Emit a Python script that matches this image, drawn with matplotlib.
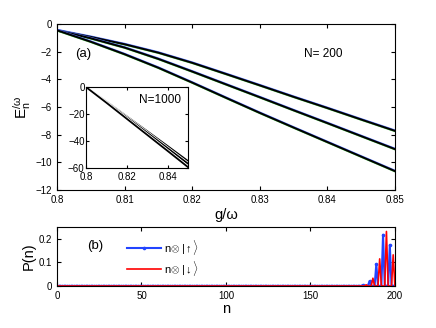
import numpy as np
import matplotlib
matplotlib.use('Agg')
import matplotlib.pyplot as plt
import matplotlib.transforms as mtransforms

plt.rcParams['font.family'] = ['Liberation Sans', 'DejaVu Sans']
plt.rcParams['mathtext.fontset'] = 'custom'
plt.rcParams['mathtext.rm'] = 'Liberation Sans'
plt.rcParams['mathtext.it'] = 'Liberation Sans'

# panel (a): lowest energies for N=200
g = [0.800, 0.805, 0.810, 0.815, 0.820, 0.825, 0.830, 0.835, 0.840, 0.845, 0.850]
e_top = [-0.45, -0.93, -1.46, -2.07, -2.80, -3.61, -4.43, -5.26, -6.07, -6.90, -7.72]
e_mid = [-0.45, -1.03, -1.70, -2.52, -3.43, -4.36, -5.29, -6.23, -7.16, -8.10, -9.04]
e_bot = [-0.45, -1.28, -2.18, -3.16, -4.23, -5.33, -6.42, -7.48, -8.53, -9.58, -10.63]

# inset: N=1000
g_in = [0.80, 0.81, 0.82, 0.83, 0.84, 0.85]
ein_top = [0, -10.7, -21.7, -32.7, -43.7, -54.8]
ein_mid = [0, -11.1, -22.4, -33.8, -45.3, -56.8]
ein_bot = [0, -11.6, -23.5, -35.4, -47.3, -59.3]

# panel (b): photon distribution
n = np.arange(0, 201)
up_n = [181, 185, 189, 193, 197]
up_p = [0.003, 0.021, 0.092, 0.217, 0.174]
down_n = [183, 187, 191, 195, 199]
down_p = [0.005, 0.033, 0.115, 0.231, 0.132]

p_up = np.zeros(len(n))
p_up[up_n] = up_p
p_down = np.zeros(len(n))
p_down[down_n] = down_p

fig = plt.figure(figsize=(4.36, 3.28), dpi=100)
ax = fig.add_axes([0.1307, 0.4207, 0.775, 0.506])
up_shift = ax.transData + mtransforms.ScaledTranslation(0, 0.6 / 72, fig.dpi_scale_trans)
dn_shift = ax.transData + mtransforms.ScaledTranslation(0, -0.5 / 72, fig.dpi_scale_trans)
for e in (e_top, e_mid, e_bot):
    ax.plot(g, e, color='#5577ff', lw=0.9, transform=up_shift)
    ax.plot(g, e, color='#44bb44', lw=0.9, transform=dn_shift)
    ax.plot(g, e, color='black', lw=1.4)
ax.set_xlim(0.8, 0.85)
ax.set_ylim(-12, 0)
ax.set_xticks([0.8, 0.81, 0.82, 0.83, 0.84, 0.85])
ax.set_xticklabels(['0.8', '0.81', '0.82', '0.83', '0.84', '0.85'])
ax.set_yticks(range(-12, 1, 2))
ax.set_yticklabels(['\u221212', '\u221210', '\u22128', '\u22126', '\u22124', '\u22122', '0'])
ax.tick_params(direction='in', top=True, right=True, labelsize=7, length=3)
ax.set_xlabel('g/\u03c9', fontsize=10.5, labelpad=2)
ax.set_ylabel(r'$\mathregular{E_n^{/\omega}}$', fontsize=11, labelpad=2)
ax.text(0.055, 0.80, '(a)', transform=ax.transAxes, fontsize=9.5)
ax.text(0.73, 0.80, 'N= 200', transform=ax.transAxes, fontsize=8.5)

axi = fig.add_axes([0.197, 0.4878, 0.234, 0.247])
for e in (ein_top, ein_mid, ein_bot):
    axi.plot(g_in, e, color='white', lw=2.4)
    axi.plot(g_in, e, color='black', lw=1.3)
axi.set_xlim(0.8, 0.85)
axi.set_ylim(-60, 0)
axi.set_xticks([0.8, 0.82, 0.84])
axi.set_xticklabels(['0.8', '0.82', '0.84'])
axi.set_yticks([-60, -40, -20, 0])
axi.set_yticklabels(['\u221260', '\u221240', '\u221220', '0'])
axi.tick_params(direction='in', top=True, right=True, labelsize=7, length=2, pad=1)
axi.tick_params(axis='x', pad=3)
axi.text(0.52, 0.80, 'N=1000', transform=axi.transAxes, fontsize=8.5)

axb = fig.add_axes([0.1307, 0.128, 0.775, 0.180])
axb.plot(n, p_up, color='#2244ff', lw=1.5, marker='o', ms=2.6, mew=0,
         label=r'n$\otimes$ $|\!\uparrow\rangle$')
axb.plot(n, p_down, color='red', lw=1.2, label=r'n$\otimes$ $|\!\downarrow\rangle$')
axb.set_xlim(0, 200)
axb.set_ylim(0, 0.25)
axb.set_xticks([0, 50, 100, 150, 200])
axb.set_yticks([0, 0.1, 0.2])
axb.set_yticklabels(['0', '0.1', '0.2'])
axb.tick_params(direction='in', top=True, right=True, labelsize=7, length=3)
axb.set_xlabel('n', fontsize=10.5, labelpad=1)
axb.set_ylabel('P(n)', fontsize=10.5, labelpad=2)
axb.text(0.09, 0.62, '(b)', transform=axb.transAxes, fontsize=9.5)
axb.legend(loc='upper left', bbox_to_anchor=(0.185, 0.95), frameon=False, fontsize=8,
           handlelength=3.0, handletextpad=0.3, labelspacing=0.2, borderpad=0.2)

fig.savefig('out.png', dpi=100)
